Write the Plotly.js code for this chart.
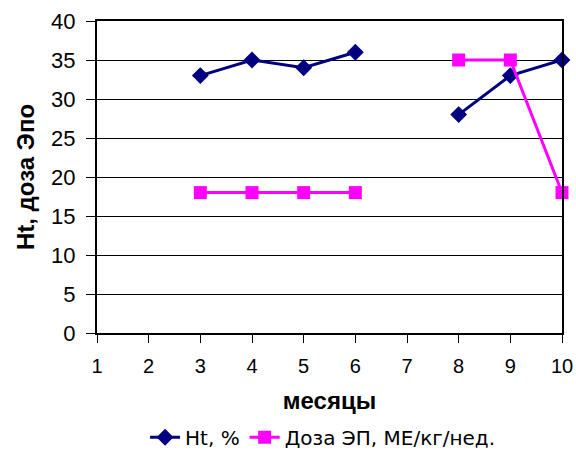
<!DOCTYPE html>
<html><head><meta charset="utf-8">
<script src="https://cdn.plot.ly/plotly-3.0.1.min.js"></script>
<style>body{margin:0;background:#fff}#c{width:576px;height:454px}</style>
</head><body><div id="c"></div>
<script>
const months = [1,2,3,4,5,6,7,8,9,10];
const htValues = [null,null,33,35,34,36,null,28,33,35];
const doseValues = [null,null,18,18,18,18,null,35,35,18];
const htName = "Ht, %";
const doseName = "Доза ЭП, МЕ/кг/нед.";
const yTicks = [0,5,10,15,20,25,30,35,40];

const F = "Liberation Sans, Arial, sans-serif";
const traces = [
  {x: months, y: htValues, name: htName, type: "scatter", mode: "lines+markers",
   connectgaps: false, cliponaxis: false,
   line: {color: "#000080", width: 3}, marker: {symbol: "diamond", size: 13, color: "#000080"}},
  {x: months, y: doseValues, name: doseName, type: "scatter", mode: "lines+markers",
   connectgaps: false, cliponaxis: false,
   line: {color: "#FF00FF", width: 3}, marker: {symbol: "square", size: 13, color: "#FF00FF"}}
];
const layout = {
  width: 576, height: 454,
  margin: {l: 97, r: 14, t: 21, b: 121},
  paper_bgcolor: "#fff", plot_bgcolor: "#fff",
  font: {family: F, color: "#000"},
  showlegend: true,
  legend: {orientation: "h", x: 0.56, xanchor: "center", xref: "container",
           y: 0.037, yanchor: "middle", yref: "container",
           font: {family: "DejaVu Sans, sans-serif", size: 20}, itemwidth: 30},
  xaxis: {range: [1, 10], tickvals: months, ticktext: months.map(String), automargin: false,
          showgrid: false, zeroline: false, showline: true, linecolor: "#000", linewidth: 2, mirror: true,
          ticks: "outside", ticklen: 8, tickcolor: "#000", tickwidth: 1, ticklabelstandoff: 6,
          tickfont: {family: F, size: 20},
          title: {text: "<b>месяцы</b>", font: {family: F, size: 24}, standoff: 16}},
  yaxis: {range: [0, 40], tickvals: yTicks, showgrid: true, gridcolor: "#000", gridwidth: 1, automargin: false,
          zeroline: false, showline: true, linecolor: "#000", linewidth: 2, mirror: true,
          ticks: "outside", ticklen: 9, tickcolor: "#000", tickwidth: 1, ticklabelstandoff: 6,
          tickfont: {family: F, size: 22},
          title: {text: "<b>Ht, доза Эпо</b>", font: {family: F, size: 24}, standoff: 10}}
};
Plotly.newPlot("c", traces, layout, {displayModeBar: false, staticPlot: true});
</script></body></html>
